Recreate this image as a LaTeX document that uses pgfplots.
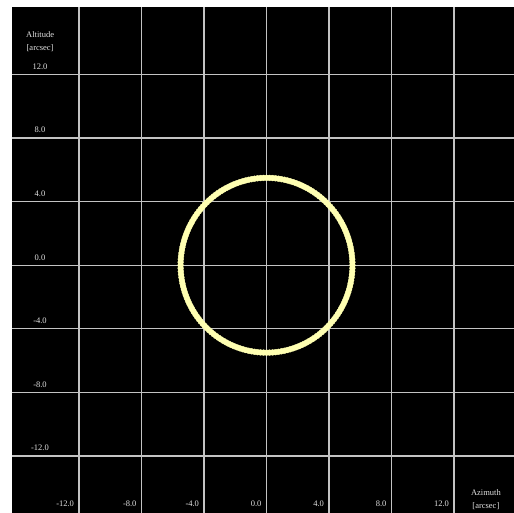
\documentclass[border=0pt]{standalone}
\usepackage{pgfplots}
\pgfplotsset{compat=1.18}
\usepackage{fontspec}
\setmainfont{Liberation Serif}
\definecolor{dotyellow}{RGB}{255,255,178}
\definecolor{gridgray}{RGB}{195,195,195}
\definecolor{labgray}{RGB}{225,225,225}
\begin{document}
\begin{tikzpicture}
\begin{axis}[
  width=502pt, height=505.5pt, scale only axis,
  xmin=-16.29, xmax=15.84, ymin=-15.59, ymax=16.22,
  axis background/.style={fill=black},
  axis on top,
  axis line style={draw=none},
  major tick length=0pt,
  grid=major,
  major grid style={gridgray, line width=1.3pt},
  xtick={-12,-8,-4,0,4,8,12},
  ytick={-12,-8,-4,0,4,8,12},
  xticklabels={{-12.0},{-8.0},{-4.0},{0.0},{4.0},{8.0},{12.0}},
  yticklabels={{-12.0},{-8.0},{-4.0},{0.0},{4.0},{8.0},{12.0}},
  ticklabel style={font=\fontsize{8.5}{10}\selectfont, text=labgray},
  xticklabel style={anchor=south east, xshift=-1.5pt, yshift=2.5pt},
  yticklabel style={anchor=south, xshift=28pt, yshift=1.5pt},
  xlabel={Azimuth\\{[arcsec]}},
  ylabel={Altitude\\{[arcsec]}},
  xlabel style={font=\fontsize{8.5}{13}\selectfont, text=labgray, align=center,
    at={(axis description cs:0.944,0.027)}, anchor=center},
  ylabel style={font=\fontsize{8.5}{13}\selectfont, text=labgray, align=center,
    rotate=-90, at={(axis description cs:0.056,0.932)}, anchor=center},
]
\addplot[only marks, mark=*, mark size=2.9pt,
  mark options={draw=dotyellow, fill=dotyellow}] coordinates {
(5.500,0.000) (5.487,0.384) (5.446,0.765) (5.380,1.144) (5.287,1.516) (5.168,1.881)
(5.024,2.237) (4.856,2.582) (4.664,2.915) (4.450,3.233) (4.213,3.535) (3.956,3.821)
(3.680,4.087) (3.386,4.334) (3.076,4.560) (2.750,4.763) (2.411,4.943) (2.060,5.100)
(1.700,5.231) (1.331,5.337) (0.955,5.416) (0.575,5.470) (0.192,5.497) (0.000,5.500)
(-0.192,5.497) (-0.575,5.470) (-0.955,5.416) (-1.331,5.337) (-1.700,5.231) (-2.060,5.100)
(-2.411,4.943) (-2.750,4.763) (-3.076,4.560) (-3.386,4.334) (-3.680,4.087) (-3.956,3.821)
(-4.213,3.535) (-4.450,3.233) (-4.664,2.915) (-4.856,2.582) (-5.024,2.237) (-5.168,1.881)
(-5.287,1.516) (-5.380,1.144) (-5.446,0.765) (-5.487,0.384) (-5.500,0.000)
(-5.487,-0.384) (-5.446,-0.765) (-5.380,-1.144) (-5.287,-1.516) (-5.168,-1.881)
(-5.024,-2.237) (-4.856,-2.582) (-4.664,-2.915) (-4.450,-3.233) (-4.213,-3.535) (-3.956,-3.821)
(-3.680,-4.087) (-3.386,-4.334) (-3.076,-4.560) (-2.750,-4.763) (-2.411,-4.943) (-2.060,-5.100)
(-1.700,-5.231) (-1.331,-5.337) (-0.955,-5.416) (-0.575,-5.470) (-0.192,-5.497) (0.000,-5.500)
(0.192,-5.497) (0.575,-5.470) (0.955,-5.416) (1.331,-5.337) (1.700,-5.231) (2.060,-5.100)
(2.411,-4.943) (2.750,-4.763) (3.076,-4.560) (3.386,-4.334) (3.680,-4.087) (3.956,-3.821)
(4.213,-3.535) (4.450,-3.233) (4.664,-2.915) (4.856,-2.582) (5.024,-2.237) (5.168,-1.881)
(5.287,-1.516) (5.380,-1.144) (5.446,-0.765) (5.487,-0.384)
};
\addplot[only marks, mark=*, mark size=2.9pt,
  mark options={draw=dotyellow, fill=dotyellow}] coordinates {
(5.497,0.192) (5.470,0.575) (5.416,0.955) (5.337,1.331) (5.231,1.700) (5.100,2.060)
(4.943,2.411) (4.763,2.750) (4.560,3.076) (4.334,3.386) (4.087,3.680) (3.821,3.956)
(3.535,4.213) (3.233,4.450) (2.915,4.664) (2.582,4.856) (2.237,5.024) (1.881,5.168)
(1.516,5.287) (1.144,5.380) (0.765,5.446) (0.384,5.487)
(-0.384,5.487) (-0.765,5.446) (-1.144,5.380) (-1.516,5.287) (-1.881,5.168) (-2.237,5.024)
(-2.582,4.856) (-2.915,4.664) (-3.233,4.450) (-3.535,4.213) (-3.821,3.956) (-4.087,3.680)
(-4.334,3.386) (-4.560,3.076) (-4.763,2.750) (-4.943,2.411) (-5.100,2.060) (-5.231,1.700)
(-5.337,1.331) (-5.416,0.955) (-5.470,0.575) (-5.497,0.192)
(-5.497,-0.192) (-5.470,-0.575) (-5.416,-0.955) (-5.337,-1.331) (-5.231,-1.700) (-5.100,-2.060)
(-4.943,-2.411) (-4.763,-2.750) (-4.560,-3.076) (-4.334,-3.386) (-4.087,-3.680) (-3.821,-3.956)
(-3.535,-4.213) (-3.233,-4.450) (-2.915,-4.664) (-2.582,-4.856) (-2.237,-5.024) (-1.881,-5.168)
(-1.516,-5.287) (-1.144,-5.380) (-0.765,-5.446) (-0.384,-5.487)
(0.384,-5.487) (0.765,-5.446) (1.144,-5.380) (1.516,-5.287) (1.881,-5.168) (2.237,-5.024)
(2.582,-4.856) (2.915,-4.664) (3.233,-4.450) (3.535,-4.213) (3.821,-3.956) (4.087,-3.680)
(4.334,-3.386) (4.560,-3.076) (4.763,-2.750) (4.943,-2.411) (5.100,-2.060) (5.231,-1.700)
(5.337,-1.331) (5.416,-0.955) (5.470,-0.575) (5.497,-0.192)
};
\end{axis}
\pgfresetboundingbox
\path ([xshift=-12pt,yshift=7.5pt]current axis.north west) rectangle (current axis.south east);
\end{tikzpicture}
\end{document}
